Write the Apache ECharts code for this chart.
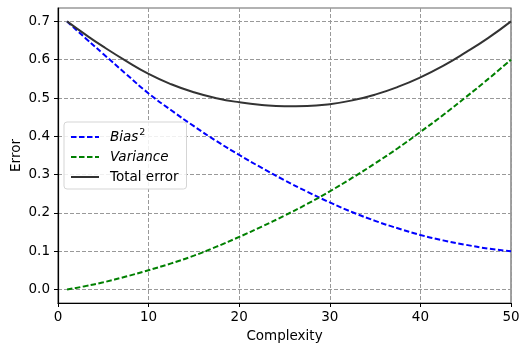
<!DOCTYPE html>
<html>
<head>
<meta charset="utf-8">
<script src="https://cdn.jsdelivr.net/npm/echarts@6/dist/echarts.min.js"></script>
<style>
html,body{margin:0;padding:0;background:#fff;}
#chart{width:520px;height:343px;}
</style>
</head>
<body>
<div id="chart"></div>
<script>
var complexity = [1, 3, 5, 7.5, 10, 12.5, 15, 17.5, 20, 22.5, 25, 27.5, 30, 32.5, 35, 37.5, 40, 42.5, 45, 47.5, 50];
var bias2 = [0.700, 0.657, 0.615, 0.563, 0.512, 0.468, 0.4265, 0.3875, 0.3515, 0.3175, 0.2855, 0.2555, 0.2275, 0.202, 0.1795, 0.160, 0.1425, 0.1285, 0.117, 0.107, 0.100];
var variance = [0.000, 0.009, 0.019, 0.034, 0.0505, 0.0685, 0.0885, 0.112, 0.1375, 0.1645, 0.193, 0.2235, 0.2565, 0.292, 0.3295, 0.369, 0.4115, 0.4555, 0.502, 0.550, 0.600];
var totalError = [0.700, 0.666, 0.634, 0.597, 0.563, 0.536, 0.515, 0.4995, 0.489, 0.482, 0.4785, 0.479, 0.484, 0.494, 0.509, 0.529, 0.554, 0.584, 0.619, 0.657, 0.700];
var yTicks = [0, 0.1, 0.2, 0.3, 0.4, 0.5, 0.6, 0.7];
var xTicks = [0, 10, 20, 30, 40, 50];

function pairs(ys) { return complexity.map(function (x, i) { return [x, ys[i]]; }); }

var font = 'DejaVu Sans';
var chart = echarts.init(document.getElementById('chart'), null, {renderer: 'canvas'});
chart.setOption({
  animation: false,
  backgroundColor: '#fff',
  grid: {left: 58, right: 9, top: 8, bottom: 40, containLabel: false, outerBoundsMode: 'none',
    show: true, borderColor: '#666', borderWidth: 1.2, backgroundColor: 'transparent'},
  xAxis: {
    type: 'value', min: 0, max: 50, interval: 10,
    name: 'Complexity', nameLocation: 'middle', nameGap: 26,
    nameTextStyle: {fontFamily: font, fontSize: 13.5, color: '#000'},
    axisLine: {show: true, onZero: false, lineStyle: {color: '#000', width: 1.2}},
    axisTick: {show: true, length: 4, lineStyle: {color: '#000'}, customValues: xTicks},
    axisLabel: {fontFamily: font, fontSize: 13.5, color: '#000', margin: 7, customValues: xTicks,
      formatter: function (v) { return String(v); }},
    splitLine: {show: true, lineStyle: {color: '#999', type: [4, 2], width: 1}}
  },
  yAxis: {
    type: 'value', min: -0.035, max: 0.735,
    name: 'Error', nameLocation: 'middle', nameGap: 35, nameRotate: 90, nameMoveOverlap: false,
    nameTextStyle: {fontFamily: font, fontSize: 13.5, color: '#000'},
    axisLine: {show: true, onZero: false, lineStyle: {color: '#000', width: 1.2}},
    axisTick: {show: true, length: 4, lineStyle: {color: '#000'}, customValues: yTicks},
    axisLabel: {fontFamily: font, fontSize: 13.5, color: '#000', margin: 8, customValues: yTicks,
      formatter: function (v) { return v.toFixed(1); }},
    splitLine: {show: true, lineStyle: {color: '#999', type: [4, 2], width: 1}}
  },
  legend: {
    orient: 'vertical', left: 64, top: 122,
    padding: [6, 8, 5, 6], itemGap: 6, itemWidth: 28, itemHeight: 14,
    itemStyle: {opacity: 0},
    backgroundColor: 'rgba(255,255,255,0.85)', borderColor: '#d5d5d5', borderWidth: 1, borderRadius: 3,
    data: ['Bias²', 'Variance', 'Total error'],
    formatter: function (n) {
      if (n === 'Bias²') return '{i|Bias}{s|2}';
      if (n === 'Variance') return '{i|Variance}';
      return '{n|Total error}';
    },
    textStyle: {
      fontFamily: font, fontSize: 13.5, color: '#000', padding: [0, 0, 0, 6],
      rich: {
        i: {fontFamily: font, fontSize: 13.5, fontStyle: 'italic', color: '#000'},
        s: {fontFamily: font, fontSize: 9.5, color: '#000', padding: [0, 0, 8, 1]},
        n: {fontFamily: font, fontSize: 13.5, color: '#000'}
      }
    }
  },
  series: [
    {name: 'Bias²', type: 'line', data: pairs(bias2), smooth: true, symbol: 'none',
      lineStyle: {color: '#0000ff', width: 2, type: [5.5, 2.5]}, itemStyle: {color: '#0000ff'}},
    {name: 'Variance', type: 'line', data: pairs(variance), smooth: true, symbol: 'none',
      lineStyle: {color: '#008000', width: 2, type: [5.5, 2.5]}, itemStyle: {color: '#008000'}},
    {name: 'Total error', type: 'line', data: pairs(totalError), smooth: true, symbol: 'none',
      lineStyle: {color: '#333333', width: 2, type: 'solid'}, itemStyle: {color: '#333333'}}
  ]
});
</script>
</body>
</html>
